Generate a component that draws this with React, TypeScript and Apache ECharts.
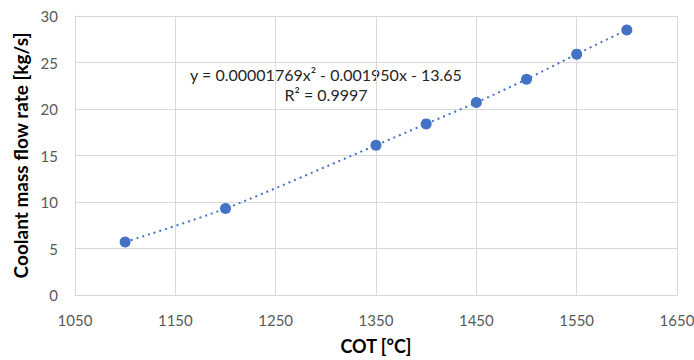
import React, { useEffect, useRef } from "react";
import * as echarts from "echarts";

const cot = [1100, 1200, 1350, 1400, 1450, 1500, 1550, 1600];
const flow = [5.7, 9.3, 16.1, 18.4, 20.7, 23.2, 25.9, 28.5];
const equationText = "y = 0.00001769x\u00B2 - 0.001950x - 13.65";
const r2Text = "R\u00B2 = 0.9997";
const xTitle = "COT [\u00B0C]";
const yTitle = "Coolant mass flow rate [kg/s]";

const FONT = "Lato, 'Open Sans', sans-serif";

export default function App() {
  const ref = useRef<HTMLDivElement>(null);
  useEffect(() => {
    if (!ref.current) return;
    const chart = echarts.init(ref.current, null, { renderer: "svg" });
    const pts = cot.map((x, i) => [x, flow[i]]);
    chart.setOption({
      animation: false,
      grid: { left: 75, right: 17, top: 16, bottom: 65, outerBoundsMode: "none", containLabel: false },
      xAxis: {
        type: "value",
        min: 1050,
        max: 1650,
        interval: 100,
        name: xTitle,
        nameLocation: "middle",
        nameGap: 42,
        nameTextStyle: { fontFamily: FONT, fontSize: 18, fontWeight: "bold", color: "#000" },
        axisLine: { show: true, lineStyle: { color: "#d9d9d9" } },
        axisTick: { show: false },
        axisLabel: {
          fontFamily: FONT,
          fontSize: 15,
          color: "#595959",
          margin: 17,
          formatter: (v: number) => String(v),
        },
        splitLine: { show: true, lineStyle: { color: "#d9d9d9", width: 1 } },
      },
      yAxis: {
        type: "value",
        min: 0,
        max: 30,
        interval: 5,
        name: yTitle,
        nameLocation: "middle",
        nameGap: 43,
        nameTextStyle: { fontFamily: FONT, fontSize: 19, fontWeight: "bold", color: "#000" },
        axisLine: { show: true, lineStyle: { color: "#d9d9d9" } },
        axisTick: { show: false },
        axisLabel: { fontFamily: FONT, fontSize: 15, color: "#595959", margin: 17 },
        splitLine: { show: true, lineStyle: { color: "#d9d9d9", width: 1 } },
      },
      series: [
        {
          type: "line",
          data: pts,
          smooth: 0.3,
          symbol: "none",
          lineStyle: { color: "#4472C4", width: 2, type: [2, 4] },
          z: 2,
        },
        {
          type: "scatter",
          data: pts,
          symbol: "circle",
          symbolSize: 11,
          itemStyle: { color: "#4472C4", opacity: 1 },
          z: 3,
        },
      ],
      graphic: [
        {
          type: "text",
          x: 326,
          y: 74,
          style: {
            text: equationText,
            fontFamily: FONT,
            fontSize: 16,
            fill: "#262626",
            align: "center",
            verticalAlign: "middle",
          },
        },
        {
          type: "text",
          x: 326,
          y: 94,
          style: {
            text: r2Text,
            fontFamily: FONT,
            fontSize: 16,
            fill: "#262626",
            align: "center",
            verticalAlign: "middle",
          },
        },
      ],
    });
    return () => chart.dispose();
  }, []);
  return <div ref={ref} style={{ width: 694, height: 360, position: "absolute", left: 0, top: 0, background: "#fff" }} />;
}
